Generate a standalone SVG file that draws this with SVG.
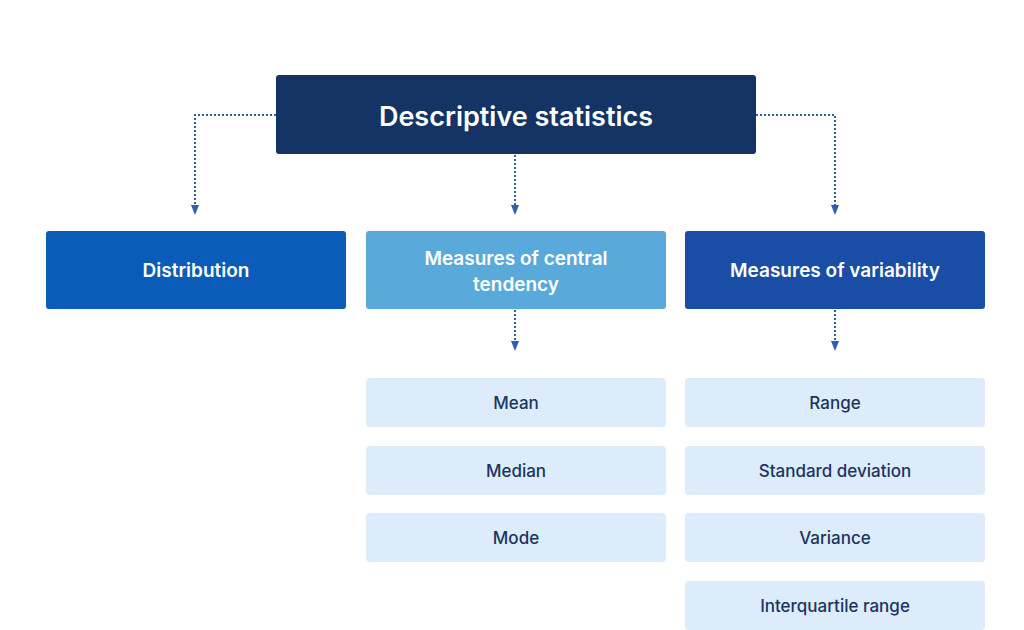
<svg xmlns="http://www.w3.org/2000/svg" width="1024" height="630" viewBox="0 0 1024 630">
<style>
text{font-family:"Inter","Liberation Sans",sans-serif;text-anchor:middle;dominant-baseline:central}
.w{fill:#fff;font-size:19px;font-weight:600}
.leaf rect{fill:#dcecfb}
.leaf text{fill:#1b3560;font-size:17px;font-weight:500}
.c{fill:none;stroke:#2f5ea8;stroke-width:2;stroke-dasharray:2 2}
</style>
<defs><marker id="a" markerWidth="10" markerHeight="8" refX="5" refY="4" orient="auto" markerUnits="userSpaceOnUse"><path d="M0,0L10,4L0,8z" fill="#2a5fb0"/></marker></defs>
<rect width="1024" height="630" fill="#fff"/>
<g id="connectors">
<path class="c" d="M276,115H195V210" marker-end="url(#a)"/>
<path class="c" d="M515,155V210" marker-end="url(#a)"/>
<path class="c" d="M756,115H835V210" marker-end="url(#a)"/>
<path class="c" d="M515,310V346" marker-end="url(#a)"/>
<path class="c" d="M835,310V346" marker-end="url(#a)"/>
</g>
<g id="root"><rect x="276" y="75" width="480" height="79" rx="3" fill="#143466"/><text x="516" y="116" class="w" style="font-size:27px">Descriptive statistics</text></g>
<g id="distribution"><rect x="46" y="231" width="300" height="78" rx="3" fill="#0a5cb8"/><text x="196" y="270" class="w">Distribution</text></g>
<g id="central"><rect x="366" y="231" width="300" height="78" rx="3" fill="#5aa9db"/><text x="516" y="258" class="w">Measures of central</text><text x="516" y="284" class="w">tendency</text></g>
<g id="variability"><rect x="685" y="231" width="300" height="78" rx="3" fill="#1a4ea6"/><text x="835" y="270" class="w">Measures of variability</text></g>
<g id="mean" class="leaf"><rect x="366" y="378" width="300" height="49" rx="4"/><text x="516" y="403">Mean</text></g>
<g id="median" class="leaf"><rect x="366" y="446" width="300" height="49" rx="4"/><text x="516" y="471">Median</text></g>
<g id="mode" class="leaf"><rect x="366" y="513" width="300" height="49" rx="4"/><text x="516" y="538">Mode</text></g>
<g id="range" class="leaf"><rect x="685" y="378" width="300" height="49" rx="4"/><text x="835" y="403">Range</text></g>
<g id="sd" class="leaf"><rect x="685" y="446" width="300" height="49" rx="4"/><text x="835" y="471">Standard deviation</text></g>
<g id="variance" class="leaf"><rect x="685" y="513" width="300" height="49" rx="4"/><text x="835" y="538">Variance</text></g>
<g id="iqr" class="leaf"><rect x="685" y="581" width="300" height="49" rx="4"/><text x="835" y="606">Interquartile range</text></g>
</svg>
